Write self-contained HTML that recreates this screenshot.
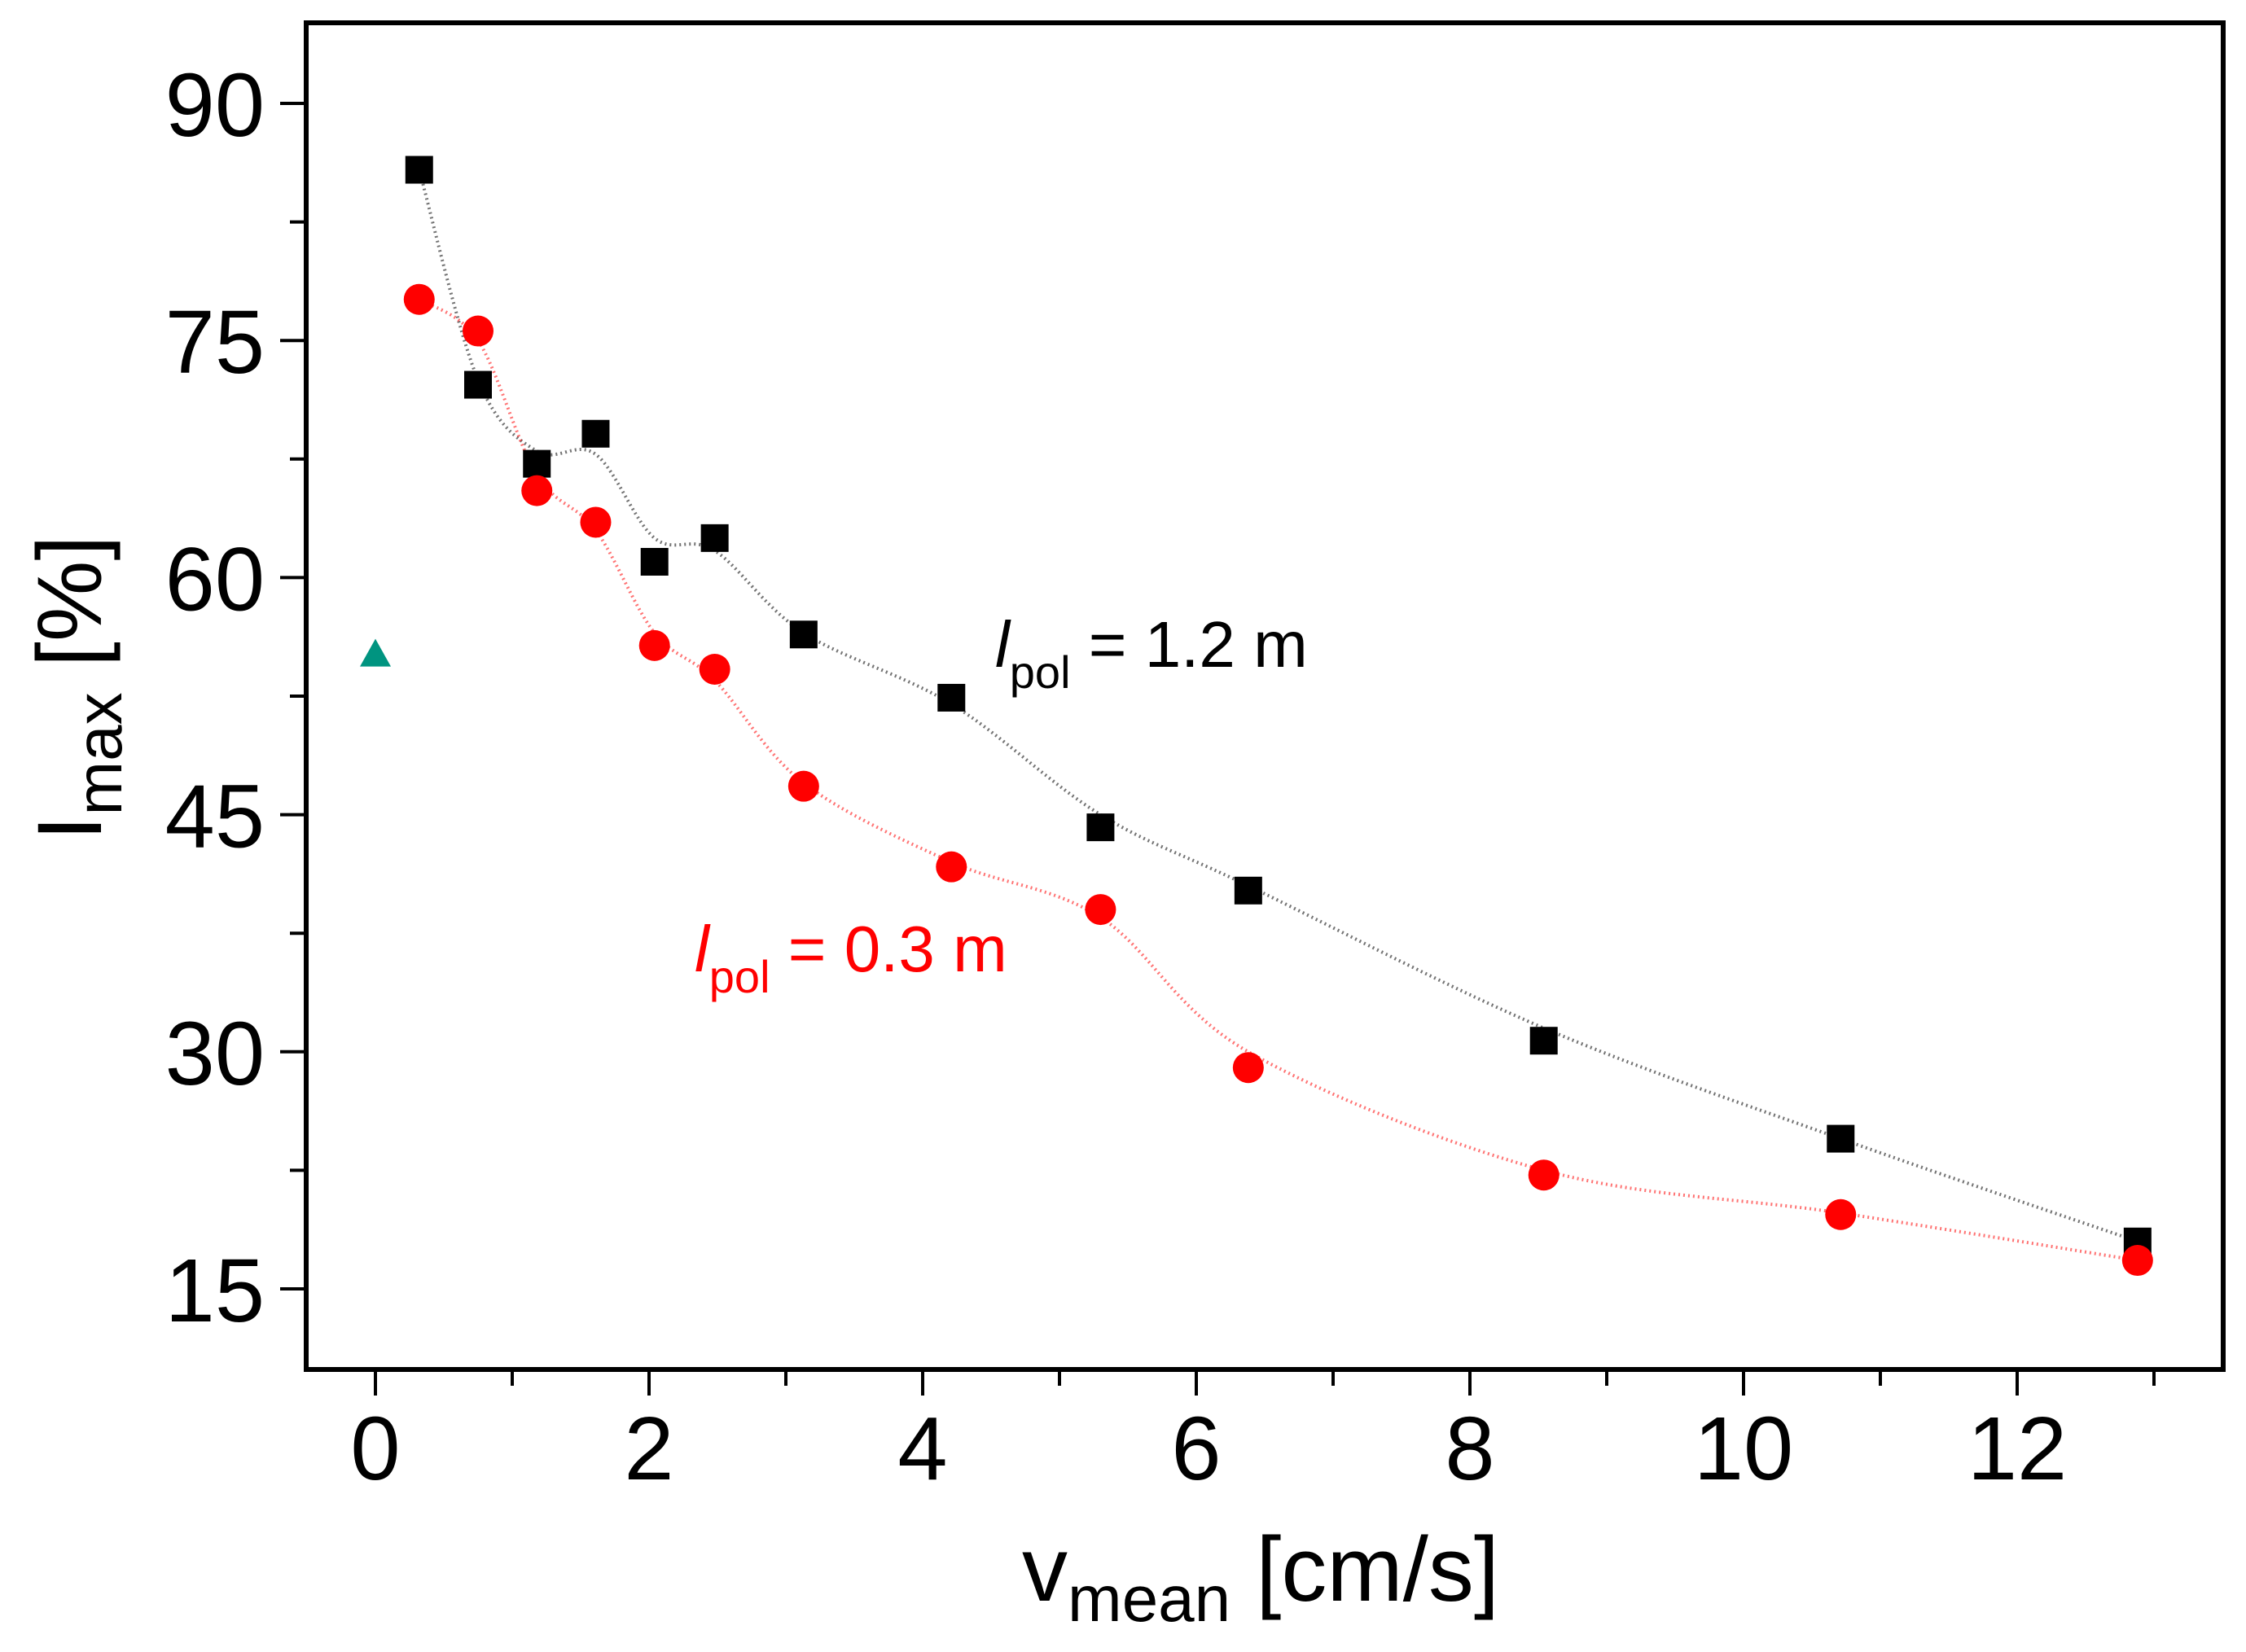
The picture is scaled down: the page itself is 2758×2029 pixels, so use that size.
<!DOCTYPE html>
<html><head><meta charset="utf-8"><style>
html,body{margin:0;padding:0;background:#fff}
svg{display:block}
text{font-family:"Liberation Sans",Arial,sans-serif}
</style></head><body>
<svg id="chart" width="2758" height="2029" viewBox="0 0 2758 2029" xmlns="http://www.w3.org/2000/svg">
<g id="fits"></g>
<g id="marks"></g>
<rect x="376" y="28" width="2354" height="1654" fill="none" stroke="#000" stroke-width="6"/>
<g id="axes"></g>
<text transform="translate(124,845) rotate(-90)" text-anchor="middle" font-size="112">I<tspan font-size="80" dy="25">max</tspan><tspan dy="-25"> [%]</tspan></text>
<text x="1548" y="1966" text-anchor="middle" font-size="112">v<tspan font-size="80" dy="25">mean</tspan><tspan dy="-25"> [cm/s]</tspan></text>
<text x="1222" y="819" font-size="80" fill="#000"><tspan font-style="italic">l</tspan><tspan font-size="56" dy="26">pol</tspan><tspan dy="-26"> = 1.2 m</tspan></text>
<text x="853" y="1193" font-size="80" fill="#ff0000"><tspan font-style="italic">l</tspan><tspan font-size="56" dy="26">pol</tspan><tspan dy="-26"> = 0.3 m</tspan></text>
</svg>
<script>
const xs = [0.32,0.75,1.18,1.61,2.04,2.48,3.13,4.21,5.30,6.38,8.54,10.71,12.88];
const blackY = [85.8,72.2,67.2,69.1,61.0,62.5,56.4,52.4,44.2,40.2,30.7,24.5,18.0];
const redY = [77.6,75.6,65.5,63.5,55.7,54.2,46.8,41.7,39.0,29.0,22.2,19.7,16.8];
const blackFit = [85.8,72.5,68.0,67.8,62.5,61.7,56.5,52.0,45.0,40.5,31.5,24.5,18.0];
const redFit = [77.6,75.0,66.5,63.0,56.5,53.5,47.0,42.0,38.5,30.0,22.5,19.8,16.8];
const triX = [0];
const triY = [55.2];
const xTicks = [0,2,4,6,8,10,12];
const yTicks = [15,30,45,60,75,90];

const NS="http://www.w3.org/2000/svg";
function X(v){return 461+v*168;}
function Y(v){return 127+(90-v)*(1456/75);}
function mk(t,a,p){const e=document.createElementNS(NS,t);for(const k in a)e.setAttribute(k,a[k]);p.appendChild(e);return e;}
const axes=document.getElementById('axes'),marks=document.getElementById('marks'),fits=document.getElementById('fits');

for(let v=0;v<=13;v++){const major=v%2===0;
 const t=mk('line',{x1:X(v),x2:X(v),y1:1682,y2:1682+(major?32:20),stroke:'#000','stroke-width':4},axes);
 }
xTicks.forEach(v=>{const t=mk('text',{x:X(v),y:1817,'text-anchor':'middle','font-size':110},axes);t.textContent=v;
 });
for(let v=7.5;v<=97.5;v+=7.5){const major=v%15===0;const yy=Y(v);if(yy<28||yy>1682)continue;
 const t=mk('line',{x1:376,x2:376-(major?32:20),y1:yy,y2:yy,stroke:'#000','stroke-width':4},axes);
 }
yTicks.forEach(v=>{const t=mk('text',{x:325,y:Y(v)+40,'text-anchor':'end','font-size':110},axes);t.textContent=v;
 });

function curve(ys,col,name){
 const P=xs.map((x,i)=>[X(x),Y(ys[i])]);let d='M'+P[0][0]+','+P[0][1];
 for(let i=0;i<P.length-1;i++){const p0=P[Math.max(0,i-1)],p1=P[i],p2=P[i+1],p3=P[Math.min(P.length-1,i+2)];
  d+=' C'+(p1[0]+(p2[0]-p0[0])/6)+','+(p1[1]+(p2[1]-p0[1])/6)+' '+(p2[0]-(p3[0]-p1[0])/6)+','+(p2[1]-(p3[1]-p1[1])/6)+' '+p2[0]+','+p2[1];}
 const e=mk('path',{d:d,fill:'none',stroke:col,'stroke-width':4,'stroke-dasharray':'2 4',opacity:0.55},fits);
 }
curve(blackFit,'#000','fit-curve-1-2m');
curve(redFit,'#ff0000','fit-curve-0-3m');

xs.forEach((x,i)=>{const e=mk('rect',{x:X(x)-17,y:Y(blackY[i])-17,width:34,height:34,fill:'#000'},marks);
 });
xs.forEach((x,i)=>{const e=mk('circle',{cx:X(x),cy:Y(redY[i]),r:19,fill:'#ff0000'},marks);
 });
triX.forEach((x,i)=>{const cx=X(x),cy=Y(triY[i]);
 const e=mk('polygon',{points:(cx-19)+','+(cy+16)+' '+(cx+19)+','+(cy+16)+' '+cx+','+(cy-18),fill:'#009480'},marks);
 });
</script>
</body></html>
